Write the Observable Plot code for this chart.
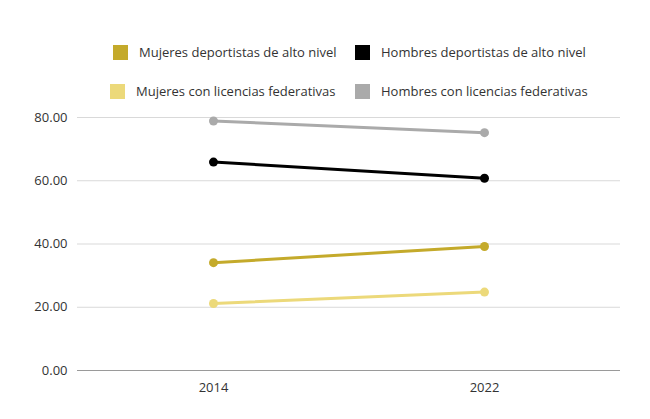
<!DOCTYPE html>
<html>
<head>
<meta charset="utf-8">
<script src="https://cdn.jsdelivr.net/npm/d3@7"></script>
<script src="https://cdn.jsdelivr.net/npm/@observablehq/plot@0.6"></script>
<style>
  html, body { margin: 0; padding: 0; background: #fff; }
  body { width: 650px; height: 419px; position: relative; font-family: "Open Sans", "Noto Sans", sans-serif; }
  #legend { position: relative; width: 650px; height: 100px; }
  .item { position: absolute; display: flex; align-items: center; font-size: 13px; color: #333; white-space: nowrap; }
  .sw { width: 15px; height: 15px; margin-right: 11px; }
</style>
</head>
<body>
<div id="legend"></div>
<div id="chart"></div>
<script>
const years = ["2014", "2022"];
const seriesNames = [
  "Mujeres deportistas de alto nivel",
  "Hombres deportistas de alto nivel",
  "Mujeres con licencias federativas",
  "Hombres con licencias federativas"
];
const seriesColors = ["#c4aa2b", "#000000", "#ecd97a", "#aaaaaa"];
const mujeresAlto = [34.1, 39.2];
const hombresAlto = [65.9, 60.8];
const mujeresLic = [21.2, 24.8];
const hombresLic = [78.9, 75.2];
const yTicks = [0, 20, 40, 60, 80];

const valuesBySeries = [mujeresAlto, hombresAlto, mujeresLic, hombresLic];
const data = [];
seriesNames.forEach((s, i) => years.forEach((y, j) => data.push({series: s, year: y, value: valuesBySeries[i][j]})));

// legend
const legend = document.getElementById("legend");
const legendPos = [[113, 52], [355, 52], [110, 91], [355, 91]];
seriesNames.forEach((s, i) => {
  const d = document.createElement("div");
  d.className = "item";
  d.style.left = legendPos[i][0] + "px";
  d.style.top = (legendPos[i][1] - 10) + "px";
  d.style.height = "20px";
  d.innerHTML = `<span class="sw" style="background:${seriesColors[i]}"></span><span>${s}</span>`;
  legend.appendChild(d);
});

const chart = Plot.plot({
  width: 650,
  height: 319,
  marginTop: 17,
  marginBottom: 49,
  marginLeft: 77,
  marginRight: 30,
  style: {fontFamily: "'Open Sans', 'Noto Sans', sans-serif", fontSize: "13px", color: "#333"},
  x: {type: "point", domain: years, padding: 0.5, label: null, tickSize: 0, tickPadding: 12},
  y: {domain: [0, 80], ticks: yTicks, label: null, tickSize: 0, tickPadding: 10, tickFormat: d => d.toFixed(2)},
  color: {domain: seriesNames, range: seriesColors},
  marks: [
    Plot.gridY(yTicks.filter(t => t > 0), {stroke: "#d9d9d9", strokeOpacity: 1, strokeWidth: 1}),
    Plot.ruleY([0], {stroke: "#9a9a9a", strokeWidth: 1}),
    Plot.axisX({tickSize: 0, tickPadding: 12, fill: "#333"}),
    Plot.axisY({ticks: yTicks, tickSize: 0, tickPadding: 10, tickFormat: d => d.toFixed(2), fill: "#333"}),
    Plot.line(data, {x: "year", y: "value", z: "series", stroke: "series", strokeWidth: 3}),
    Plot.dot(data, {x: "year", y: "value", fill: "series", r: 4.5, stroke: null})
  ]
});
document.getElementById("chart").appendChild(chart);
</script>
</body>
</html>
